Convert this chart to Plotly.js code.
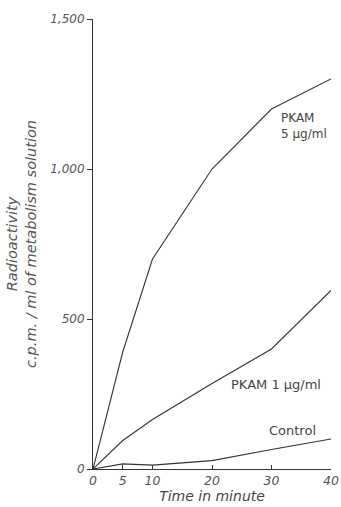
<!DOCTYPE html>
<html>
<head>
<meta charset="utf-8">
<script src="https://cdn.plot.ly/plotly-3.0.1.min.js"></script>
<style>html,body{margin:0;padding:0;background:#fff;}#chart{width:341px;height:507px;}</style>
</head>
<body>
<div id="chart"></div>
<script>
const timeMin = [0, 5, 10, 20, 30, 40];
const pkam5 = [0, 390, 700, 1000, 1200, 1300];
const pkam1 = [0, 95, 165, 285, 400, 595];
const control = [0, 17, 13, 28, 65, 100];
const xTicks = [0, 5, 10, 20, 30, 40];
const xTickText = ['0', '5', '10', '20', '30', '40'];
const yTicks = [0, 500, 1000, 1500];
const yTickText = ['0', '500', '1,000', '1,500'];

const lineStyle = {color: '#333', width: 1.1};
const traces = [
  {x: timeMin, y: pkam5, mode: 'lines', line: lineStyle, name: 'PKAM 5 µg/ml'},
  {x: timeMin, y: pkam1, mode: 'lines', line: lineStyle, name: 'PKAM 1 µg/ml'},
  {x: timeMin, y: control, mode: 'lines', line: lineStyle, name: 'Control'}
];
const fontFam = '"DejaVu Sans", "Liberation Sans", sans-serif';
const layout = {
  width: 341, height: 507,
  margin: {l: 93, r: 10, t: 19, b: 38},
  paper_bgcolor: '#fff', plot_bgcolor: '#fff',
  showlegend: false,
  font: {family: fontFam, color: '#444', size: 12},
  xaxis: {
    range: [0, 40], tickvals: xTicks, ticktext: xTickText,
    showgrid: false, zeroline: false, showline: true, linecolor: '#333', linewidth: 1,
    ticks: 'inside', ticklen: 4, tickcolor: '#333', ticklabeloverflow: 'allow',
    tickfont: {family: fontFam, size: 12.5, color: '#555', style: 'italic'},
    title: {text: 'Time in minute', font: {family: fontFam, size: 14, color: '#444', style: 'italic'}, standoff: 3}
  },
  yaxis: {
    range: [0, 1500], tickvals: yTicks, ticktext: yTickText,
    showgrid: false, zeroline: false, showline: true, linecolor: '#333', linewidth: 1,
    ticks: 'outside', ticklen: 5, tickcolor: '#333',
    tickfont: {family: fontFam, size: 12, color: '#555', style: 'italic'},
    title: {text: 'Radioactivity<br>c.p.m. / ml of metabolism solution', font: {family: fontFam, size: 14.5, color: '#555', style: 'italic'}, standoff: 10}
  },
  annotations: [
    {x: 31.2, y: 1200, xref: 'x', yref: 'y', xanchor: 'left', yanchor: 'top', align: 'left', showarrow: false,
     text: 'PKAM<br>5 µg/ml', font: {family: fontFam, size: 12, color: '#444'}},
    {x: 22.8, y: 283, xref: 'x', yref: 'y', xanchor: 'left', yanchor: 'middle', showarrow: false,
     text: 'PKAM 1 µg/ml', font: {family: fontFam, size: 13, color: '#444'}},
    {x: 29.3, y: 127, xref: 'x', yref: 'y', xanchor: 'left', yanchor: 'middle', showarrow: false,
     text: 'Control', font: {family: fontFam, size: 13, color: '#444'}}
  ]
};
Plotly.newPlot('chart', traces, layout, {displayModeBar: false, staticPlot: true});
</script>
</body>
</html>
